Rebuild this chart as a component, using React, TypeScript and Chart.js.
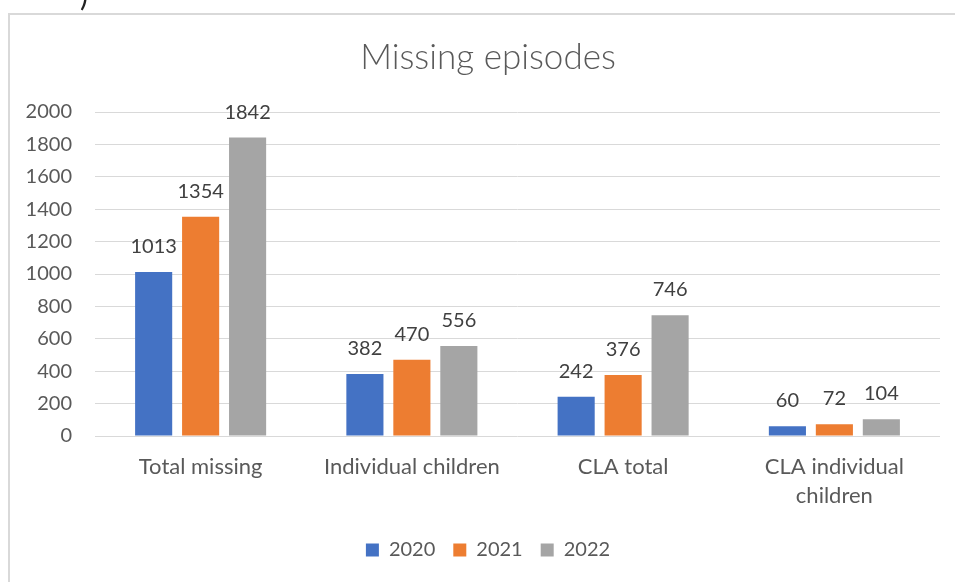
import React, { useEffect, useRef } from "react";
import { Chart, registerables } from "chart.js";

Chart.register(...registerables);

const categories: (string | string[])[] = [
  "Total missing",
  "Individual children",
  "CLA total",
  ["CLA individual", "children"],
];
const seriesNames = ["2020", "2021", "2022"];
const values2020 = [1013, 382, 242, 60];
const values2021 = [1354, 470, 376, 72];
const values2022 = [1842, 556, 746, 104];
const seriesColors = ["#4472C4", "#ED7D31", "#A5A5A5"];
const yMin = 0;
const yMax = 2000;
const yStep = 200;
const titleText = "Missing episodes";

const FONT = "Lato, 'Open Sans', sans-serif";

const dataLabelPlugin = {
  id: "dataLabels",
  afterLayout(chart: any) {
    // let the y tick labels use the space to the left of the axis box
    if (chart.scales.y) chart.scales.y.left = 0;
  },
  afterDatasetsDraw(chart: any) {
    const ctx = chart.ctx;
    ctx.save();
    ctx.font = `20px ${FONT}`;
    ctx.fillStyle = "#404040";
    ctx.textAlign = "center";
    ctx.textBaseline = "alphabetic";
    chart.data.datasets.forEach((ds: any, di: number) => {
      const meta = chart.getDatasetMeta(di);
      meta.data.forEach((bar: any, i: number) => {
        ctx.fillText(String(ds.data[i]), bar.x, bar.y - 19);
      });
    });
    ctx.restore();
  },
};

export default function App() {
  const canvasRef = useRef<HTMLCanvasElement | null>(null);

  useEffect(() => {
    document.body.style.overflow = "hidden";
    if (!canvasRef.current) return;
    const chart = new Chart(canvasRef.current, {
      type: "bar",
      data: {
        labels: categories,
        datasets: [values2020, values2021, values2022].map((vals, i) => ({
          label: seriesNames[i],
          data: vals,
          backgroundColor: seriesColors[i],
          borderWidth: 0,
          categoryPercentage: 0.667,
          barPercentage: 0.79,
        })),
      },
      options: {
        responsive: false,
        animation: false,
        layout: { padding: { left: 26, right: 26, top: 0, bottom: 12 } },
        font: { family: FONT },
        plugins: {
          tooltip: { enabled: false },
          title: {
            display: true,
            text: titleText,
            color: "#595959",
            font: { family: FONT, size: 35, weight: "300", lineHeight: 1.2 },
            padding: { top: 22, bottom: 33 },
          },
          legend: {
            display: true,
            position: "bottom",
            labels: {
              color: "#595959",
              font: { family: FONT, size: 20 },
              boxWidth: 13,
              boxHeight: 13,
              padding: 18,
            },
          },
        },
        scales: {
          x: {
            grid: { display: false, drawTicks: false },
            border: { display: false },
            ticks: {
              color: "#595959",
              font: { family: FONT, size: 22, lineHeight: 1.3 },
              padding: 17,
              maxRotation: 0,
              autoSkip: false,
            },
            afterFit: (scale: any) => {
              scale.height = 86;
            },
          },
          y: {
            min: yMin,
            max: yMax,
            grid: { color: "#d9d9d9", lineWidth: 1, drawTicks: false },
            border: { display: false },
            ticks: {
              stepSize: yStep,
              color: "#595959",
              font: { family: FONT, size: 20 },
              padding: 23,
              callback: (v: any) => String(v),
            },
            afterFit: (scale: any) => {
              scale.width = 59;
            },
          },
        },
      },
      plugins: [dataLabelPlugin],
    });
    return () => chart.destroy();
  }, []);

  return (
    <div>
      <span
        style={{
          position: "fixed",
          left: 80,
          top: -21,
          fontFamily: FONT,
          fontSize: 30,
          lineHeight: 1,
          color: "#222",
        }}
      >
        )
      </span>
      <div
        style={{
          position: "fixed",
          left: 8,
          top: 13,
          width: 960,
          height: 600,
          border: "2px solid #d9d9d9",
          background: "#fff",
        }}
      >
        <canvas
          ref={canvasRef}
          width={956}
          height={567}
          style={{ display: "block", width: 956, height: 567 }}
        />
      </div>
    </div>
  );
}
